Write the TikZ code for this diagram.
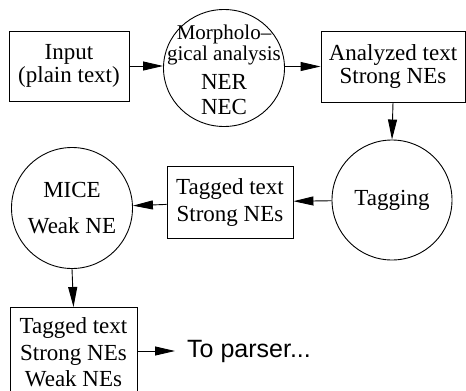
\documentclass[tikz,border=0pt]{standalone}
\usepackage{fontspec}
\setmainfont{Liberation Serif}
\newfontfamily\sansf{Liberation Sans}
\usetikzlibrary{arrows.meta,shapes.geometric}
\begin{document}
\begin{tikzpicture}[x=1pt,y=-1pt,
  shapeline/.style={draw,line width=0.9pt,inner sep=0pt,align=center},
  box/.style={shapeline,rectangle,font=\fontsize{23}{23}\selectfont},
  circ/.style={shapeline,circle,font=\fontsize{23}{27}\selectfont},
  lbl/.style={inner sep=0pt,align=center},
  arr/.style={-{Triangle[length=20pt,width=9pt]},line width=0.9pt}]
\useasboundingbox (0,0) rectangle (466,391);
\clip (0,0) rectangle (466,391);
% top row
\node[box,minimum width=120pt,minimum height=70pt] (in) at (69,66) {Input\\(plain text)};
\node[shapeline,ellipse,minimum width=121pt,minimum height=117pt] (morph) at (224,68) {};
\node[lbl,font=\fontsize{21}{19}\selectfont] (morphA) at (224,45) {Morpholo--\\gical analysis};
\node[lbl,font=\fontsize{23}{25}\selectfont] (morphB) at (224,95) {NER\\NEC};
\node[box,minimum width=144pt,minimum height=71pt] (an) at (393,66.5) {Analyzed text\\Strong NEs};
% middle row
\node[circ,minimum size=120pt] (tag) at (392,200) {Tagging};
\node[box,minimum width=126pt,minimum height=72pt,font=\fontsize{23}{27}\selectfont] (tt) at (230,202) {Tagged text\\Strong NEs};
\node[circ,minimum size=121pt,font=\fontsize{23}{36}\selectfont] (mice) at (72,208) {MICE\\Weak NE};
% bottom
\node[box,minimum width=127pt,minimum height=90pt,anchor=north,font=\fontsize{23}{26.5}\selectfont] (out) at (73.5,307) {Tagged text\\Strong NEs\\Weak NEs};
\node[anchor=west,inner sep=0pt,font=\sansf\fontsize{25}{25}\selectfont] (parser) at (187,351) {To parser...};
% connectors
\draw[arr] (in.east) -- (in.east -| morph.west);
\draw[arr] (morph.east |- an.west) -- (an.west);
\draw[arr] (an.south) -- (tag.north);
\draw[arr] (tag) -- (tt);
\draw[arr] (tt) -- (mice);
\draw[arr] (mice.south) -- (out.north);
\draw[arr,shorten >=12pt] (out.east |- parser.west) -- (parser.west);
\end{tikzpicture}
\end{document}
